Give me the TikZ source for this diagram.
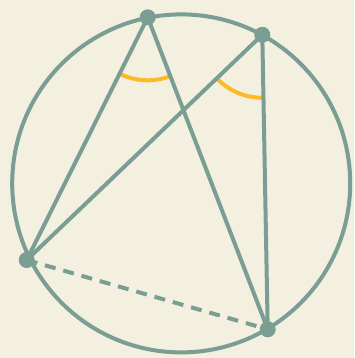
\documentclass[tikz,border=0pt]{standalone}
\usetikzlibrary{angles}
\definecolor{bg}{HTML}{F4F0DF}
\definecolor{teal}{HTML}{7A9E94}
\definecolor{gold}{HTML}{FBBA26}
\begin{document}
\begin{tikzpicture}[x=1pt,y=-1pt,
  edge/.style={draw=teal,line width=4pt},
  dot/.style={circle,fill=teal,inner sep=0pt,minimum size=16pt},
  anglemark/.style={draw=gold,line width=4pt,angle radius=63pt}]
\fill[bg] (0,0) rectangle (354,358);
\useasboundingbox (0,0) rectangle (354,358);
\coordinate (O) at (181.2,183.4);
\coordinate (A) at (147.7,17.3);
\coordinate (B) at (262.3,34.8);
\coordinate (C) at (26.7,260);
\coordinate (D) at (267.7,329.3);
\draw[edge] (O) circle[radius=169];
\pic[anglemark] {angle = C--A--D};
\pic[anglemark] {angle = C--B--D};
\draw[edge] (A) -- (C);
\draw[edge] (A) -- (D);
\draw[edge] (B) -- (C);
\draw[edge] (B) -- (D);
\draw[edge,dash pattern=on 11pt off 8pt] (C) -- (D);
\node[dot] (a) at (A) {};
\node[dot] (b) at (B) {};
\node[dot] (c) at (C) {};
\node[dot] (d) at (D) {};
\end{tikzpicture}
\end{document}
